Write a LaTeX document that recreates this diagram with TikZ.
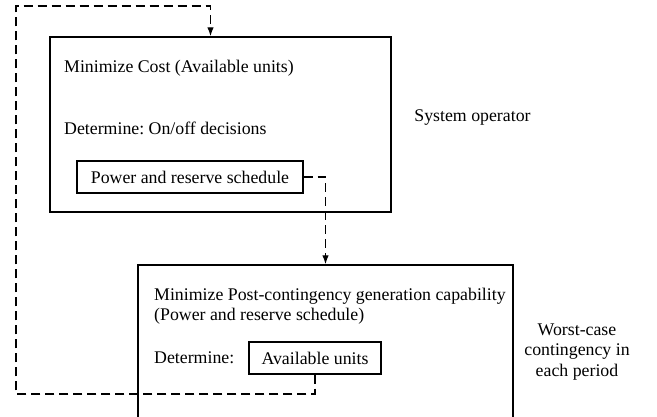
\documentclass[tikz,border=0pt]{standalone}
\usepackage{fontspec}
\setmainfont{Liberation Serif}
\usetikzlibrary{arrows.meta,positioning,calc}
\frenchspacing

\begin{document}
\begin{tikzpicture}[x=1pt,y=-1pt,font=\fontsize{17.8}{20.5}\selectfont,
	box/.style={draw, line width=1.4pt, inner sep=0pt},
	txt/.style={inner sep=0pt, anchor=west},
	flow/.style={dash pattern=on 9pt off 5pt, line width=1.3pt},
	tip/.style={-{Latex[length=9pt,width=6.5pt]}}]
	\clip (0,0) rectangle (657,416);
	
	% system operator
	\node[box, minimum width=341pt, minimum height=175pt] (op) at (220.5,124.5) {};
	\node[txt] (cost) at (64,68) {Minimize Cost (Available units)};
	\node[txt] (onoff) at (64,128) {Determine: On/off decisions};
	\node[box, minimum width=226pt, minimum height=32pt] (sched) at (190,177) {Power and reserve schedule};
	\node (sysop) at (472.5,118) {System operator};
	
	% worst-case contingency
	\node[box, minimum width=375pt, minimum height=180pt] (wc) at (325.5,355) {};
	\node[txt, align=left] (post) at (154,306) {Minimize Post-contingency generation capability\\(Power and reserve schedule)};
	\node[txt] (det) at (154,358) {Determine:};
	\node[box, minimum width=132pt, minimum height=32pt] (avail) at (315,358) {Available units};
	\node[align=center] (worst) at (577,352) {Worst-case\\contingency in\\each period};
	
	\coordinate (lb) at (16,394);
	\coordinate (lt) at (16,6);
	\draw[flow,tip] (sched.east) -| (wc.north);
	\draw[flow,tip] (avail.south) |- (lb) -- (lt) -| ([xshift=-10pt]op.north);
\end{tikzpicture}
\end{document}
